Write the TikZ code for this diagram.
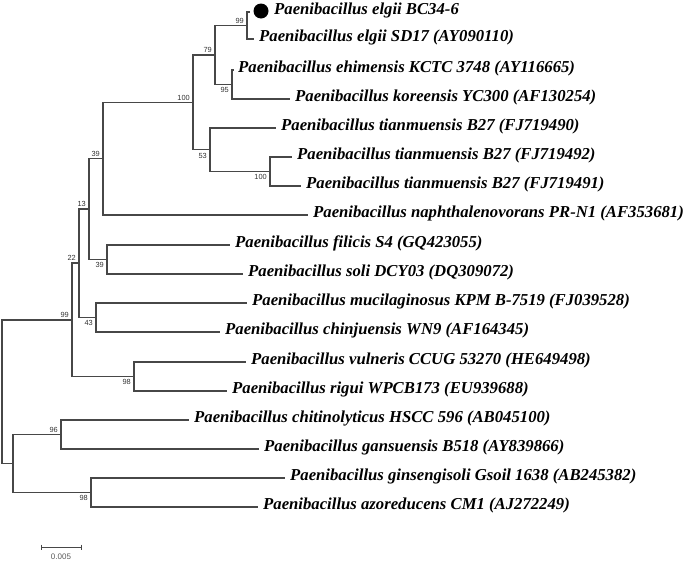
\documentclass[tikz,border=0pt]{standalone}
\usepackage{fontspec}
\setmainfont{Liberation Serif}
\newfontfamily\lblfont{Liberation Sans}
\begin{document}
\begin{tikzpicture}[x=1pt,y=-1pt,
  br/.style={draw=black!72, line width=1.1pt},
  taxon/.style={anchor=base west, inner sep=0pt, font=\fontsize{16.7}{18}\selectfont\bfseries\itshape},
  bsup/.style={anchor=south east, inner sep=0pt, font=\lblfont\fontsize{7.4}{8}\selectfont, text=black!80},
  bsdn/.style={anchor=north east, inner sep=0pt, font=\lblfont\fontsize{7.4}{8}\selectfont, text=black!80},
  scl/.style={inner sep=0pt, font=\lblfont\fontsize{8}{9}\selectfont, text=black!65}]
\useasboundingbox (0,0) rectangle (685,560);
% internal nodes
\coordinate (root) at (2,391.75);
\coordinate (nA) at (72,320);
\coordinate (nB) at (79,263);
\coordinate (nC) at (89,209);
\coordinate (nD) at (103,158.7);
\coordinate (nE) at (193,102.4);
\coordinate (nF) at (215,55);
\coordinate (nG) at (247,25.5);
\coordinate (nH) at (232,84.5);
\coordinate (nI) at (210,149.75);
\coordinate (nJ) at (270,171.5);
\coordinate (nK) at (107,259.5);
\coordinate (nL) at (96,317.5);
\coordinate (nM) at (134,376.5);
\coordinate (nN) at (13,463.5);
\coordinate (nO) at (61,434.5);
\coordinate (nP) at (91,492.5);
% leaf tips
\coordinate (l1) at (250,12);
\coordinate (l2) at (254,39);
\coordinate (l3) at (234,70);
\coordinate (l4) at (290,99);
\coordinate (l5) at (276,128);
\coordinate (l6) at (292,157);
\coordinate (l7) at (301,186);
\coordinate (l8) at (308,215);
\coordinate (l9) at (230,245);
\coordinate (l10) at (243,274);
\coordinate (l11) at (247,303);
\coordinate (l12) at (220,332);
\coordinate (l13) at (246,362);
\coordinate (l14) at (227,391);
\coordinate (l15) at (189,420);
\coordinate (l16) at (259,449);
\coordinate (l17) at (285,478);
\coordinate (l18) at (258,507);
% branches
\foreach \p/\c in {root/nA,root/nN,nA/nB,nA/nM,nB/nC,nB/nL,nC/nD,nC/nK,nD/nE,nD/l8,
  nE/nF,nE/nI,nF/nG,nF/nH,nG/l1,nG/l2,nH/l3,nH/l4,nI/l5,nI/nJ,nJ/l6,nJ/l7,
  nK/l9,nK/l10,nL/l11,nL/l12,nM/l13,nM/l14,nN/nO,nN/nP,nO/l15,nO/l16,nP/l17,nP/l18}
  \draw[br] (\p) |- (\c);
% marker
\fill[black] (261,11) circle (7.5);
% taxa
\node[taxon] (t1) at ([xshift=24pt,yshift=-2.5pt]l1) {Paenibacillus elgii BC34-6};
\node[taxon] (t2) at ([xshift=5pt,yshift=-2.5pt]l2) {Paenibacillus elgii SD17 (AY090110)};
\node[taxon] (t3) at ([xshift=4pt,yshift=-2.5pt]l3) {Paenibacillus ehimensis KCTC 3748 (AY116665)};
\node[taxon] (t4) at ([xshift=5pt,yshift=-2.5pt]l4) {Paenibacillus koreensis YC300 (AF130254)};
\node[taxon] (t5) at ([xshift=5pt,yshift=-2.5pt]l5) {Paenibacillus tianmuensis B27 (FJ719490)};
\node[taxon] (t6) at ([xshift=5pt,yshift=-2.5pt]l6) {Paenibacillus tianmuensis B27 (FJ719492)};
\node[taxon] (t7) at ([xshift=5pt,yshift=-2.5pt]l7) {Paenibacillus tianmuensis B27 (FJ719491)};
\node[taxon] (t8) at ([xshift=5pt,yshift=-2.5pt]l8) {Paenibacillus naphthalenovorans PR-N1 (AF353681)};
\node[taxon] (t9) at ([xshift=5pt,yshift=-2.5pt]l9) {Paenibacillus filicis S4 (GQ423055)};
\node[taxon] (t10) at ([xshift=5pt,yshift=-2.5pt]l10) {Paenibacillus soli DCY03 (DQ309072)};
\node[taxon] (t11) at ([xshift=5pt,yshift=-2.5pt]l11) {Paenibacillus mucilaginosus KPM B-7519 (FJ039528)};
\node[taxon] (t12) at ([xshift=5pt,yshift=-2.5pt]l12) {Paenibacillus chinjuensis WN9 (AF164345)};
\node[taxon] (t13) at ([xshift=5pt,yshift=-2.5pt]l13) {Paenibacillus vulneris CCUG 53270 (HE649498)};
\node[taxon] (t14) at ([xshift=5pt,yshift=-2.5pt]l14) {Paenibacillus rigui WPCB173 (EU939688)};
\node[taxon] (t15) at ([xshift=5pt,yshift=-2.5pt]l15) {Paenibacillus chitinolyticus HSCC 596 (AB045100)};
\node[taxon] (t16) at ([xshift=5pt,yshift=-2.5pt]l16) {Paenibacillus gansuensis B518 (AY839866)};
\node[taxon] (t17) at ([xshift=5pt,yshift=-2.5pt]l17) {Paenibacillus ginsengisoli Gsoil 1638 (AB245382)};
\node[taxon] (t18) at ([xshift=5pt,yshift=-2.5pt]l18) {Paenibacillus azoreducens CM1 (AJ272249)};
% bootstrap values
\node[bsup] (bA) at ([xshift=-3pt,yshift=2pt]nA) {99};
\node[bsup] (bB) at ([xshift=-3pt,yshift=2pt]nB) {22};
\node[bsup] (bC) at ([xshift=-3pt,yshift=2pt]nC) {13};
\node[bsup] (bD) at ([xshift=-3pt,yshift=2pt]nD) {39};
\node[bsup] (bE) at ([xshift=-3pt,yshift=2pt]nE) {100};
\node[bsup] (bF) at ([xshift=-3pt,yshift=2pt]nF) {79};
\node[bsup] (bG) at ([xshift=-3pt,yshift=2pt]nG) {99};
\node[bsdn] (bH) at ([xshift=-3pt,yshift=-3pt]nH) {95};
\node[bsdn] (bI) at ([xshift=-3pt,yshift=-3pt]nI) {53};
\node[bsdn] (bJ) at ([xshift=-3pt,yshift=-3pt]nJ) {100};
\node[bsdn] (bK) at ([xshift=-3pt,yshift=-3pt]nK) {39};
\node[bsdn] (bL) at ([xshift=-3pt,yshift=-3pt]nL) {43};
\node[bsdn] (bM) at ([xshift=-3pt,yshift=-3pt]nM) {98};
\node[bsup] (bO) at ([xshift=-3pt,yshift=2pt]nO) {96};
\node[bsdn] (bP) at ([xshift=-3pt,yshift=-3pt]nP) {98};
% scale bar
\coordinate (s1) at (41,547);
\coordinate (s2) at (81,547);
\draw[br, line width=1pt] (s1) -- (s2);
\draw[br, line width=1pt] ([yshift=2.5pt]s1) -- ([yshift=-2.5pt]s1);
\draw[br, line width=1pt] ([yshift=2.5pt]s2) -- ([yshift=-2.5pt]s2);
\node[scl] (sl) at (61,556.5) {0.005};
\end{tikzpicture}
\end{document}
